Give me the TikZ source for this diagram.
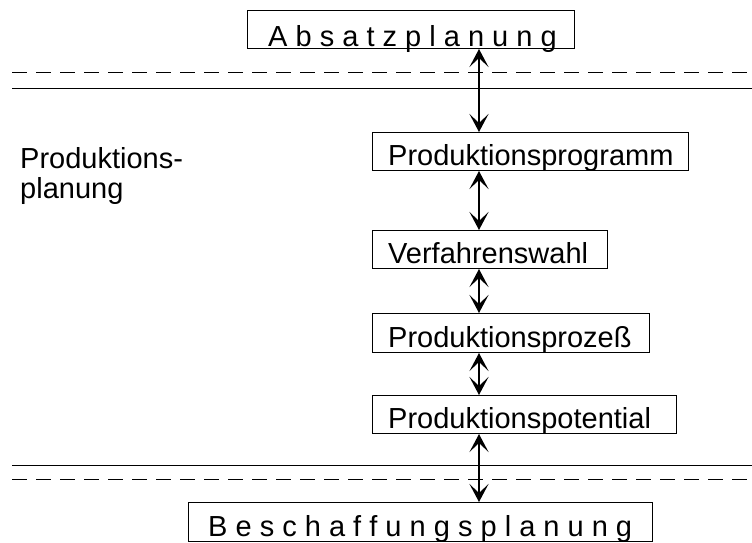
\documentclass[tikz,border=0pt]{standalone}
\usepackage{fontspec}
\setmainfont{Liberation Sans}
\usetikzlibrary{arrows.meta}
\tikzset{
  boxnode/.style={draw=black, line width=1pt, inner sep=0pt, anchor=north west},
  txt/.style={inner sep=0pt, anchor=base west, font=\fontsize{29}{30}\selectfont},
  sepline/.style={line width=1pt},
  sepdash/.style={line width=1pt, dash pattern=on 15pt off 9pt},
  dblarrow/.style={line width=2.2pt, {Stealth[length=18pt,width=19pt,inset=9pt]}-{Stealth[length=18pt,width=19pt,inset=9pt]}}
}
\begin{document}
\begin{tikzpicture}[x=1pt,y=-1pt]
\useasboundingbox (0,0) rectangle (752,542);
% boxes
\node[boxnode, minimum width=327pt, minimum height=38pt] (abs) at (247,10) {};
\node[boxnode, minimum width=316pt, minimum height=38pt] (prog) at (372,132) {};
\node[boxnode, minimum width=235pt, minimum height=38pt] (verf) at (372,230) {};
\node[boxnode, minimum width=277pt, minimum height=39pt] (proz) at (372,313) {};
\node[boxnode, minimum width=304pt, minimum height=38pt] (pot) at (372,395) {};
\node[boxnode, minimum width=464pt, minimum height=39pt] (besch) at (188,502) {};
% texts
\node[txt] (absT) at (268,46) {A b s a t z p l a n u n g};
\node[txt] (progT) at (388,165) {Produktionsprogramm};
\node[txt] (verfT) at (388,263) {Verfahrenswahl};
\node[txt] (prozT) at (388,347) {Produktionsprozeß};
\node[txt] (potT) at (388,428) {Produktionspotential};
\node[txt] (beschT) at (208,536) {B e s c h a f f u n g s p l a n u n g};
\node[txt] (pp1) at (20,168) {Produktions-};
\node[txt] (pp2) at (20,198) {planung};
% separator lines
\coordinate (l1a) at (12,72); \coordinate (l1b) at (752,72);
\coordinate (l2a) at (12,88); \coordinate (l2b) at (752,88);
\coordinate (l3a) at (12,465); \coordinate (l3b) at (752,465);
\coordinate (l4a) at (12,479); \coordinate (l4b) at (752,479);
\draw[sepdash] (l1a) -- (l1b);
\draw[sepline] (l2a) -- (l2b);
\draw[sepline] (l3a) -- (l3b);
\draw[sepdash] (l4a) -- (l4b);
% connectors
\coordinate (ax) at (479,0);
\draw[dblarrow] (abs.south -| ax) -- (prog.north -| ax);
\draw[dblarrow] (prog.south -| ax) -- (verf.north -| ax);
\draw[dblarrow] (verf.south -| ax) -- (proz.north -| ax);
\draw[dblarrow] (proz.south -| ax) -- (pot.north -| ax);
\draw[dblarrow] (pot.south -| ax) -- (besch.north -| ax);
\end{tikzpicture}
\end{document}
